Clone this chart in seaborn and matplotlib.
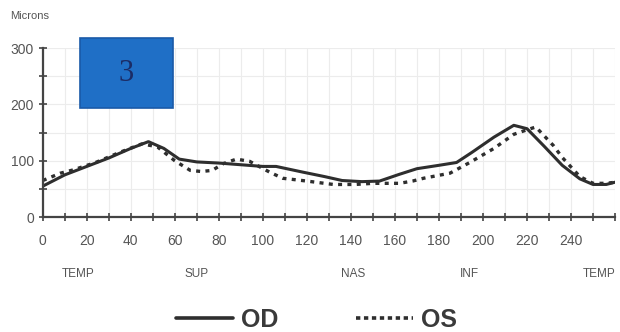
import matplotlib
matplotlib.use("Agg")
import matplotlib.pyplot as plt
import seaborn as sns
from matplotlib.patches import Rectangle
from matplotlib.lines import Line2D

# data (position along the scan circle, thickness in microns)
od_pos = [0, 10, 20, 30, 40, 48, 55, 62, 70, 80, 90, 100, 106, 118, 128, 136, 145,
          153, 162, 170, 180, 188, 195, 205, 214, 220, 228, 236, 244, 250, 256, 260]
od_val = [55, 75, 90, 105, 122, 134, 122, 103, 98, 96, 93, 90, 90, 80, 72, 65, 63,
          64, 76, 86, 92, 97, 115, 142, 163, 157, 125, 92, 68, 58, 58, 62]

os_pos = [0, 8, 14, 24, 35, 45, 52, 60, 67, 72, 77, 82, 88, 94, 103, 109, 120, 132,
          142, 150, 162, 168, 173, 185, 194, 205, 214, 220, 224, 232, 236, 244, 250,
          256, 260]
os_val = [65, 78, 84, 97, 115, 130, 125, 100, 83, 81, 83, 95, 103, 99, 80, 69, 64, 58,
          58, 60, 60, 64, 69, 78, 97, 122, 147, 155, 160, 127, 106, 72, 60, 60, 62]

region_labels = ["TEMP", "SUP", "NAS", "INF", "TEMP"]
region_pos = [16, 70, 141, 194, 253]

sns.set_style("white")
plt.rcParams["font.family"] = ["Liberation Sans", "DejaVu Sans"]

fig = plt.figure(figsize=(6.2, 3.32), dpi=100)
ax = fig.add_axes([0.069, 0.346, 0.923, 0.509])

line_col = "#2e2e2e"
sns.lineplot(x=od_pos, y=od_val, ax=ax, color=line_col, linewidth=2.2)
sns.lineplot(x=os_pos, y=os_val, ax=ax, color=line_col, linewidth=2.4,
             linestyle=(0, (1.2, 1.6)))

ax.set_xlim(0, 260)
ax.set_ylim(0, 300)
ax.set_xticks(range(0, 241, 20))
ax.set_xticks(range(0, 261, 10), minor=True)
ax.set_yticks([0, 100, 200, 300])
ax.set_yticks(range(0, 301, 50), minor=True)
ax.grid(True, which="both", color="#ececec", linewidth=0.8)
ax.tick_params(which="both", bottom=True, left=True, direction="inout", length=6,
               width=1.2, color="#444444", labelsize=10, labelcolor="#555555")
ax.tick_params(axis="x", pad=9)
for s in ["top", "right"]:
    ax.spines[s].set_visible(False)
for s in ["left", "bottom"]:
    ax.spines[s].set_color("#444444")
    ax.spines[s].set_linewidth(1.6)

for lab, p in zip(region_labels, region_pos):
    ax.text(p, -101, lab, ha="center", va="center", fontsize=8.5,
            color="#555555", clip_on=False)

fig.text(0.016, 0.953, "Microns", fontsize=8, color="#555555", va="center")

# blue label box
fig.patches.append(Rectangle((0.129, 0.675), 0.150, 0.211, transform=fig.transFigure,
                             facecolor="#1f6fc6", edgecolor="#1a5aa8", linewidth=1.2))
fig.text(0.204, 0.78, "3", fontsize=22, color="#1b2c66", ha="center", va="center",
         family=["Liberation Serif", "DejaVu Serif"])

handles = [Line2D([], [], color=line_col, linewidth=2.6),
           Line2D([], [], color=line_col, linewidth=2.6, linestyle=(0, (1.2, 1.0)))]
fig.legend(handles, ["OD", "OS"], loc="center", bbox_to_anchor=(0.51, 0.036),
           ncol=2, frameon=False, handlelength=2.3, handletextpad=0.3,
           columnspacing=3.1, prop={"weight": "bold", "size": 18})
for t in fig.legends[0].get_texts():
    t.set_color("#3a3a3a")

fig.savefig("out.png", dpi=100)
